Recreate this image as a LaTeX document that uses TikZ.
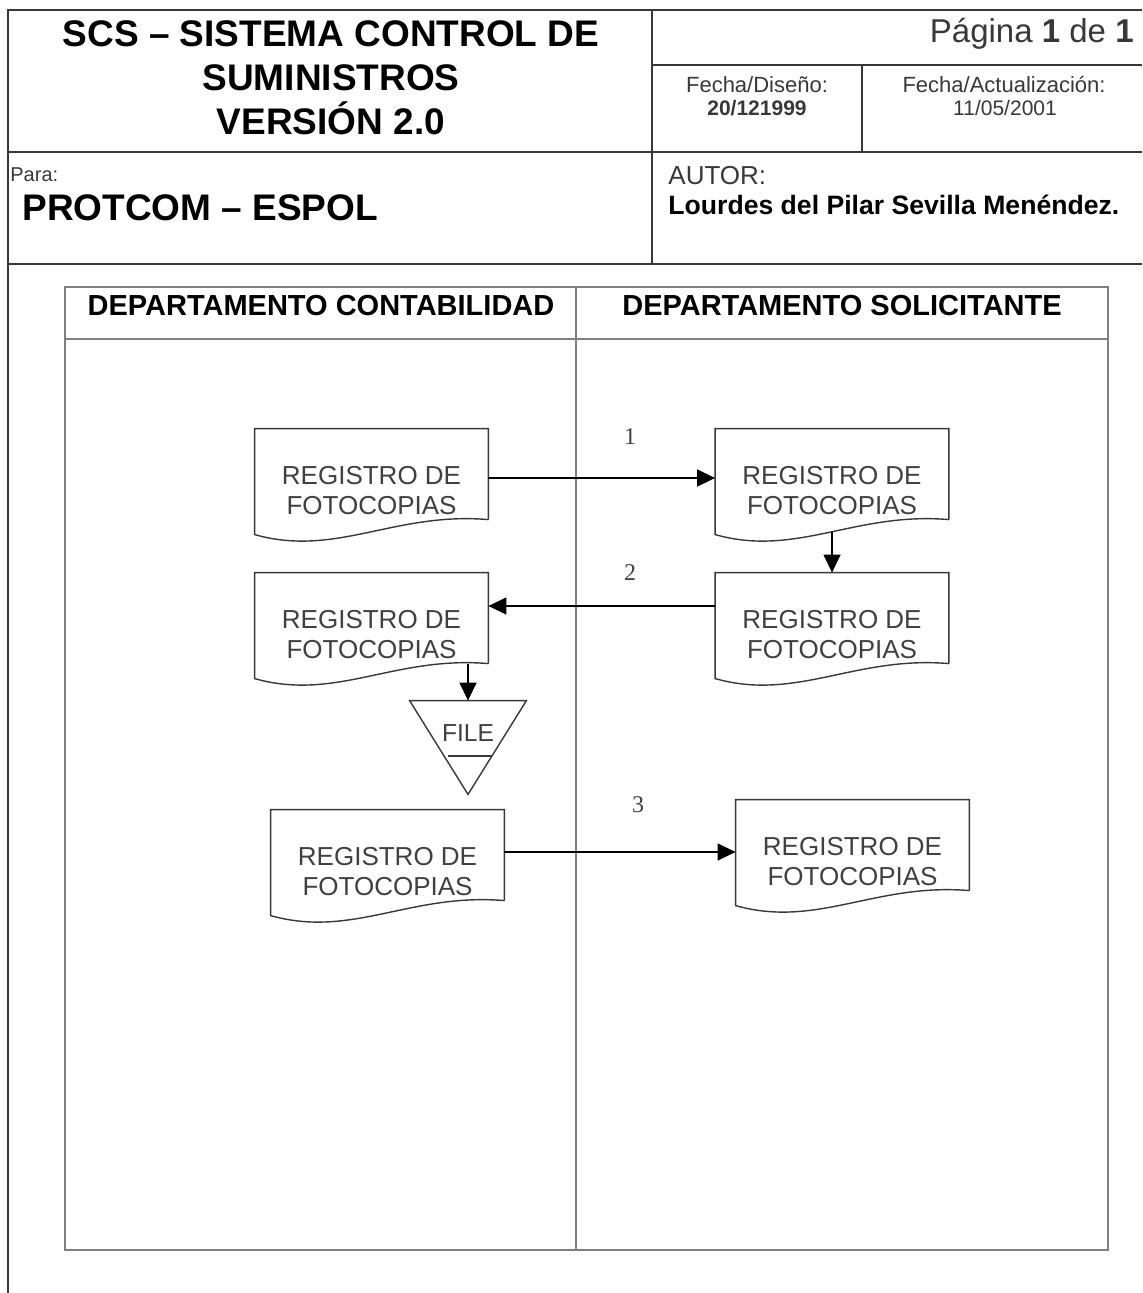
\documentclass[tikz,border=0pt]{standalone}
\usepackage{fontspec}
\setmainfont{Liberation Sans}
\newfontfamily\numfont{Liberation Serif}
\usepackage{tikz}
\usetikzlibrary{arrows.meta}
\definecolor{lgray}{rgb}{0.5, 0.5, 0.5}
\definecolor{dgray}{rgb}{0.22, 0.22, 0.22}
\definecolor{tgray}{rgb}{0.25, 0.25, 0.25}

% document symbol drawn round a doc node
\newcommand{\docshape}[1]{%
  \draw[doc line] ([yshift=-45.5pt]#1.north east) -- (#1.north east) -- (#1.north west)
    -- ([yshift=-53pt]#1.north west)
    .. controls ([shift={(40.8pt,-64.5pt)}]#1.north west) and ([shift={(69.9pt,-41.5pt)}]#1.north west)
    .. ([yshift=-45.5pt]#1.north east);}

\begin{document}
\begin{tikzpicture}[x=0.5pt,y=-0.5pt,inner sep=0pt,>={Triangle[length=9pt,width=8.5pt]},
  frame/.style={draw=dgray,line width=0.9pt},
  lane/.style={draw=lgray,line width=0.6pt},
  doc node/.style={rectangle,minimum width=116.5pt,minimum height=62pt,
        align=center,text=tgray,font=\fontsize{13}{15}\selectfont},
  file node/.style={rectangle,minimum width=58pt,minimum height=46.5pt,
        text height=8.8pt,text depth=14.5pt,text=tgray,font=\fontsize{12.3}{14}\selectfont},
  doc line/.style={draw=dgray,line width=0.7pt},
  flow/.style={->,draw=black,line width=0.7pt},
  num/.style={text=tgray,font=\numfont\fontsize{12}{14}\selectfont},
  head/.style={anchor=base,text=black,font=\bfseries\fontsize{18.5}{20}\selectfont},
  small/.style={anchor=base,text=dgray,font=\fontsize{11}{12}\selectfont}]
  \useasboundingbox (0,0) rectangle (1142,1293);

  % header
  \draw[frame] (1142,10) -- (8,10) -- (8,1293);
  \draw[frame] (8,152) -- (1142,152);
  \draw[frame] (8,264) -- (1142,264);
  \draw[frame] (652,10) -- (652,264);
  \draw[frame] (652,65) -- (1142,65);
  \draw[frame] (862,65) -- (862,152);

  \node[head] (tit1) at (331,47) {SCS – SISTEMA CONTROL DE};
  \node[head] (tit2) at (331,91) {SUMINISTROS};
  \node[head] (tit3) at (331,135) {VERSIÓN 2.0};
  \node[anchor=base east,text=dgray,font=\fontsize{16.5}{18}\selectfont] (pag) at (1134,43)
    {Página \textbf{1} de \textbf{1}};
  \node[small] (fdis) at (757,93) {Fecha/Diseño:};
  \node[small,font=\bfseries\fontsize{10.5}{12}\selectfont] (fdisv) at (757,116) {20/121999};
  \node[small] (fact) at (1004,93) {Fecha/Actualización:};
  \node[small,font=\fontsize{10.5}{12}\selectfont] (factv) at (1005,116) {11/05/2001};
  \node[anchor=base west,text=dgray,font=\fontsize{10}{12}\selectfont] (para) at (10,182) {Para:};
  \node[head,anchor=base west] (cli) at (22,221) {PROTCOM – ESPOL};
  \node[anchor=base west,text=dgray,font=\fontsize{13}{15}\selectfont] (aut) at (668,185) {AUTOR:};
  \node[anchor=base west,text=black,font=\bfseries\fontsize{13.3}{15}\selectfont] (autv) at (668,215)
    {Lourdes del Pilar Sevilla Menéndez.};

  % swimlanes
  \draw[lane] (65,287) rectangle (1108,1250);
  \draw[lane] (65,339) -- (1108,339);
  \draw[lane] (576,287) -- (576,1250);
  \node[head,font=\bfseries\fontsize{14.5}{16}\selectfont] (lane1) at (321,316) {DEPARTAMENTO CONTABILIDAD};
  \node[head,font=\bfseries\fontsize{14.5}{16}\selectfont] (lane2) at (842,316) {DEPARTAMENTO SOLICITANTE};

  % documents
  \node[doc node] (d1) at (371.5,491) {REGISTRO DE\\FOTOCOPIAS};
  \node[doc node,right of=d1,node distance=230.25pt] (d2) {REGISTRO DE\\FOTOCOPIAS};
  \node[doc node,below of=d2,node distance=72pt] (d3) {REGISTRO DE\\FOTOCOPIAS};
  \node[doc node,below of=d1,node distance=72pt] (d4) {REGISTRO DE\\FOTOCOPIAS};
  \node[doc node] (d5) at (387.5,872) {REGISTRO DE\\FOTOCOPIAS};
  \node[doc node] (d6) at (852.5,862) {REGISTRO DE\\FOTOCOPIAS};
  \foreach \n in {d1,d2,d3,d4,d5,d6}
    \docshape{\n};

  % file
  \node[file node] (file) at (468,747.5) {FILE};
  \draw[doc line] (file.north west) -- (file.north east) -- (file.south) -- cycle;
  \draw[doc line] ([shift={(-10pt,-4.25pt)}]file.center) -- ([shift={(11.85pt,-4.25pt)}]file.center);

  % flows
  \coordinate (d4rb) at ([yshift=-45.5pt]d4.north east);
  \draw[flow] ([yshift=6.5pt]d1.east) -- ([yshift=6.5pt]d2.west);
  \draw[flow] ([yshift=-51.6pt]d2.north) -- (d3.north);
  \draw[flow] ([yshift=14.5pt]d3.west) -- ([yshift=14.5pt]d4.east);
  \draw[flow] (d4rb -| file.north) -- (file.north);
  \draw[flow] ([yshift=10pt]d5.east) -- ([yshift=5pt]d6.west);

  \node[num] (n1) at (630,437) {1};
  \node[num] (n2) at (630,573) {2};
  \node[num] (n3) at (638,805) {3};
\end{tikzpicture}
\end{document}
